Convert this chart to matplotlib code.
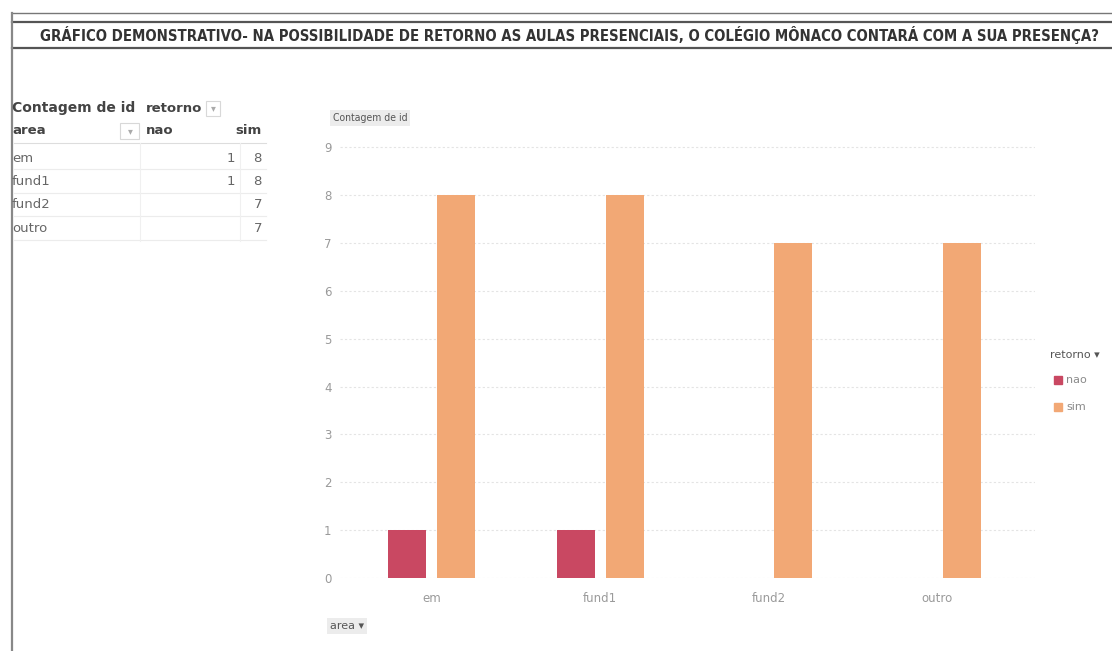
import matplotlib
matplotlib.use('Agg')
import matplotlib.pyplot as plt
from matplotlib.patches import Rectangle
from matplotlib.lines import Line2D
from matplotlib import font_manager
import numpy as np

# ---------------------------------------------------------------------------
# 数据
# ---------------------------------------------------------------------------
areas = ['em', 'fund1', 'fund2', 'outro']
nao = [1, 1, 0, 0]
sim = [8, 8, 7, 7]
nao_table = ['1', '1', '', '']
sim_table = ['8', '8', '7', '7']
y_ticks = list(range(0, 10))

TITLE = ('GRÁFICO DEMONSTRATIVO- NA POSSIBILIDADE DE RETORNO AS AULAS PRESENCIAIS, '
         'O COLÉGIO MÔNACO CONTARÁ COM A SUA PRESENÇA?')

COL_NAO = '#C94862'
COL_SIM = '#F2A875'
GRAY = '#8a8a8a'

W, H = 1112, 651
fig = plt.figure(figsize=(W / 100, H / 100), dpi=100)
fig.patch.set_facecolor('white')


def px(x, y):
    """像素坐标 -> figure 坐标"""
    return x / W, 1 - y / H


# 标题字体: 优先找窄体
title_font = font_manager.FontProperties(family='DejaVu Sans', weight='bold', stretch='condensed')
for cand in ['Liberation Sans Narrow', 'DejaVu Sans Condensed']:
    try:
        font_manager.findfont(font_manager.FontProperties(family=cand), fallback_to_default=False)
        title_font = font_manager.FontProperties(family=cand, weight='bold')
        break
    except Exception:
        pass

# 外框和标题线
for y, lw, c in [(13, 1.0, '#777777'), (22, 1.6, '#555555'), (48, 1.6, '#555555')]:
    fig.add_artist(Line2D([12 / W, 1], [1 - y / H] * 2, color=c, lw=lw))
fig.add_artist(Line2D([12 / W] * 2, [0, 1 - 13 / H], color='#888888', lw=1.6))

# 标题 (自适应宽度)
t = fig.text(*px(569, 35), TITLE, ha='center', va='center', color='#333333',
             fontproperties=title_font)
t.set_fontsize(12)
fig.canvas.draw()
tw = t.get_window_extent().width
t.set_fontsize(min(14, 12 * 1060 / tw))

# ---------------------------------------------------------------------------
# 左侧透视表
# ---------------------------------------------------------------------------
tf = dict(fontsize=9.5, family=['DejaVu Sans'])
fig.text(*px(12, 108), 'Contagem de id', fontweight='bold', color='#444444', va='center',
         fontsize=10, family=['DejaVu Sans'])
fig.text(*px(146, 108), 'retorno', fontweight='bold', color='#444444', va='center', **tf)
fig.add_artist(Rectangle((206 / W, 1 - 116 / H), 14 / W, 15 / H, fill=False,
                         edgecolor='#d8d8d8', lw=0.8))
fig.text(*px(213, 108), '▾', color='#aaaaaa', va='center', ha='center', fontsize=7)
fig.text(*px(12, 131), 'area', fontweight='bold', color='#444444', va='center', **tf)
fig.add_artist(Rectangle((120 / W, 1 - 139 / H), 19 / W, 16 / H, fill=False,
                         edgecolor='#d8d8d8', lw=0.8))
fig.text(*px(130, 131), '▾', color='#aaaaaa', va='center', ha='center', fontsize=7)
fig.text(*px(146, 131), 'nao', fontweight='bold', color='#444444', va='center', **tf)
fig.text(*px(262, 131), 'sim', fontweight='bold', color='#444444', va='center', ha='right', **tf)
for i, (a, n, s) in enumerate(zip(areas, nao_table, sim_table)):
    y = 158 + i * 23.5
    fig.text(*px(12, y), a, color='#666666', va='center', **tf)
    fig.text(*px(235, y), n, color='#666666', va='center', ha='right', **tf)
    fig.text(*px(262, y), s, color='#666666', va='center', ha='right', **tf)
    fig.add_artist(Line2D([14 / W, 266 / W], [1 - (y + 11) / H] * 2, color='#ececec', lw=0.8))
fig.add_artist(Line2D([14 / W, 266 / W], [1 - 143 / H] * 2, color='#dddddd', lw=0.8))
for x in [140, 240]:
    fig.add_artist(Line2D([x / W] * 2, [1 - 143 / H, 1 - 241 / H], color='#f0f0f0', lw=0.8))

# ---------------------------------------------------------------------------
# 柱状图
# ---------------------------------------------------------------------------
ax = fig.add_axes([340 / W, 1 - 578 / H, 695 / W, (578 - 128) / H])
x = np.arange(len(areas))
bw = 0.225
ax.bar(x - 0.145, nao, bw, color=COL_NAO, label='nao')
ax.bar(x + 0.145, sim, bw, color=COL_SIM, label='sim')
ax.set_xlim(-0.545, 3.58)
ax.set_ylim(0, 9.4)
ax.set_yticks(y_ticks)
ax.set_xticks(x)
ax.set_xticklabels(areas)
ax.tick_params(axis='both', length=0, colors='#9a9a9a', labelsize=8.5)
ax.tick_params(axis='x', pad=10)
ax.tick_params(axis='y', pad=6)
ax.grid(axis='y', color='#e4e4e4', lw=0.8, ls=(0, (2, 2)))
ax.set_axisbelow(True)
for s in ax.spines.values():
    s.set_visible(False)

# 字段按钮
bb = dict(boxstyle='square,pad=0.25', facecolor='#ececec', edgecolor='none')
fig.text(*px(333, 118), 'Contagem de id', fontsize=7.5, color='#555555', va='center', bbox=bb,
         fontstretch='condensed')
fig.text(*px(330, 626), 'area ▾', fontsize=8, color='#555555', va='center', bbox=bb)

# 图例
fig.text(*px(1050, 355), 'retorno ▾', fontsize=8, color='#555555', va='center')
for lab, c, y in [('nao', COL_NAO, 380), ('sim', COL_SIM, 407)]:
    fig.add_artist(Rectangle((1054 / W, 1 - (y + 4) / H), 8 / W, 8 / H, color=c))
    fig.text(*px(1066, y), lab, fontsize=8, color=GRAY, va='center')

fig.savefig('out.png', dpi=100, facecolor='white')
